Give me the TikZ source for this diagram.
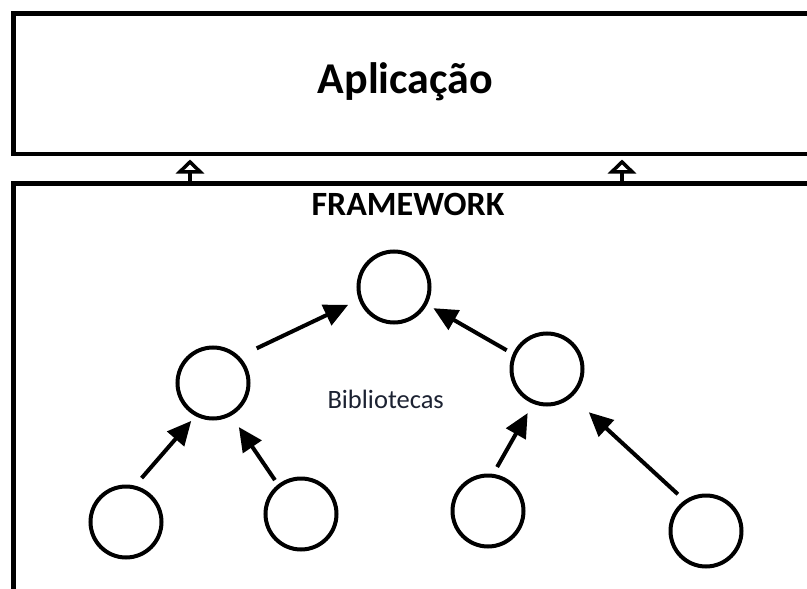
\documentclass[tikz,border=0pt]{standalone}
\usepackage{fontspec}
\setmainfont{Carlito}
\usetikzlibrary{arrows.meta}
\definecolor{libtext}{RGB}{28,34,50}
\tikzset{
  layer/.style={draw, rectangle, line width=4.5pt, inner sep=0pt, outer sep=0pt, anchor=north west},
  lib/.style={draw, circle, line width=4pt, minimum size=71pt, inner sep=0pt, outer sep=2pt},
  dep/.style={line width=4pt, -{Triangle[length=24pt,width=22pt]}},
  uses/.style={line width=3.8pt, -{Triangle[open,length=14pt,width=28pt]}, shorten >=5.5pt},
}
\begin{document}
\begin{tikzpicture}[x=1pt,y=-1pt]
\useasboundingbox (0,0) rectangle (807,589);
\clip (0,0) rectangle (807,589);

% application layer and framework layer (running off the right/bottom edge)
\node[layer, minimum width=900pt, minimum height=140.7pt] (app) at (13.5,13.3) {};
\node[layer, minimum width=900pt, minimum height=500pt] (fw) at (13.5,183.5) {};

\node[font=\bfseries\fontsize{44}{44}\selectfont, anchor=base] (apptitle) at (405.5,93) {Aplicação};
\node[font=\bfseries\fontsize{34}{34}\selectfont, anchor=base] (fwtitle) at (408,215) {FRAMEWORK};
\node[font=\fontsize{26.5}{26.5}\selectfont, text=libtext, anchor=base] (libs) at (385.7,408.3) {Bibliotecas};

% framework calls up into the application
\path (fw.north west) ++(176.5,0) coordinate (s1);
\path (fw.north west) ++(608.5,0) coordinate (s2);
\draw[uses] (s1) -- (s1 |- app.south);
\draw[uses] (s2) -- (s2 |- app.south);

% library tree
\node[lib] (core) at (394,287) {};
\node[lib] (ml) at (213,383) {};
\node[lib] (mr) at (547,369) {};
\node[lib] (b1) at (126,522) {};
\node[lib] (b2) at (301,514) {};
\node[lib] (b3) at (488,511) {};
\node[lib] (b4) at (706,531) {};

\draw[dep, shorten <=19pt, shorten >=11.7pt] (ml.45) -- (core.200);
\draw[dep, shorten <=7pt, shorten >=7.2pt] (mr.156) -- (core.332);
\draw[dep, shorten <=10pt, shorten >=6.3pt] (b1.76) -- (ml.242);
\draw[dep, shorten <=5.3pt, shorten >=13.6pt] (b2.128) -- (ml.299);
\draw[dep, shorten <=7.9pt, shorten >=10.7pt] (b3.82) -- (mr.248);
\draw[dep, shorten <=9pt, shorten >=22.7pt] (b4.125) -- (mr.312);
\end{tikzpicture}
\end{document}
